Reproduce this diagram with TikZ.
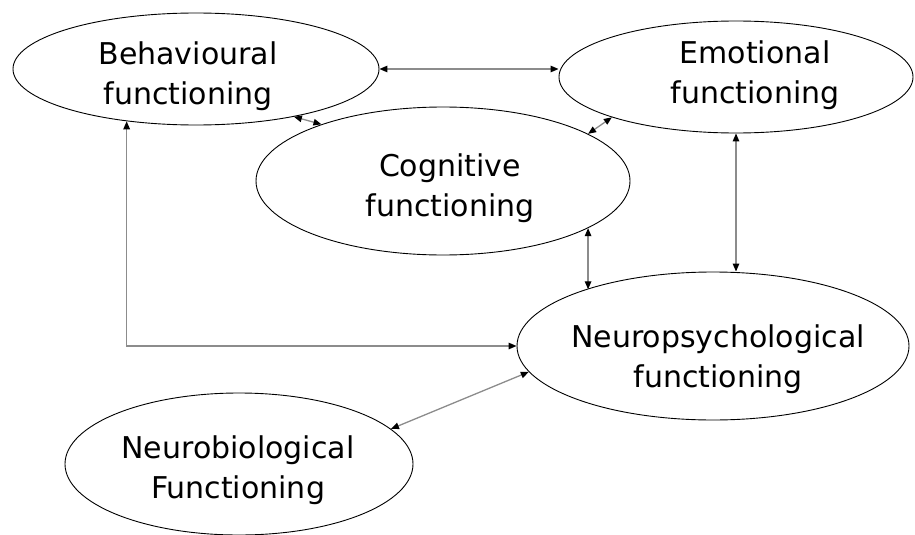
\documentclass[tikz,border=0pt]{standalone}
\usepackage{fontspec}
\setmainfont{DejaVu Sans}
\usetikzlibrary{shapes.geometric,arrows.meta}

\begin{document}
\begin{tikzpicture}[x=1pt,y=-1pt,
	  blob/.style={ellipse,draw=black,line width=0.9pt,inner sep=0pt},
	  word/.style={align=center,font=\fontsize{30}{40}\selectfont,inner sep=0pt},
	  link/.style={draw=black!45,line width=1.3pt,
	    {Triangle[length=8pt,width=6.5pt,color=black]}-{Triangle[length=8pt,width=6.5pt,color=black]}}]
	  \useasboundingbox (0,0) rectangle (915,535);
	  % the five areas
	  \node (beh) [blob,minimum width=366pt,minimum height=112pt] at (196,69) {};
	  \node (emo) [blob,minimum width=354pt,minimum height=112pt] at (736,77) {};
	  \node (cog) [blob,minimum width=374pt,minimum height=148pt] at (443,181) {};
	  \node (npsy) [blob,minimum width=392pt,minimum height=148pt] at (713,346) {};
	  \node (nbio) [blob,minimum width=348pt,minimum height=142pt] at (239,464) {};
	  \node (beh_t) [word] at (188,76) {Behavioural\\functioning};
	  \node (emo_t) [word] at (755,75) {Emotional\\functioning};
	  \node (cog_t) [word] at (450,188) {Cognitive\\functioning};
	  \node (npsy_t) [word] at (718,359) {Neuropsychological\\functioning};
	  \node (nbio_t) [word] at (238,470) {Neurobiological\\Functioning};
	  % links
	  \draw[link] (beh.east) -- (beh.east -| emo.west);
	  \draw[link] (beh.-26) -- (cog.155);
	  \draw[link] (emo.198) -- (cog.18);
	  \draw[link] (emo.south) -- (emo.south |- npsy.north);
	  \draw[link] (cog.-18) -- (cog.-18 |- npsy.156);
	  \draw[link] (beh.217) |- (npsy.west);
	  \draw[link] (nbio.13) -- (npsy.188);
\end{tikzpicture}
\end{document}
